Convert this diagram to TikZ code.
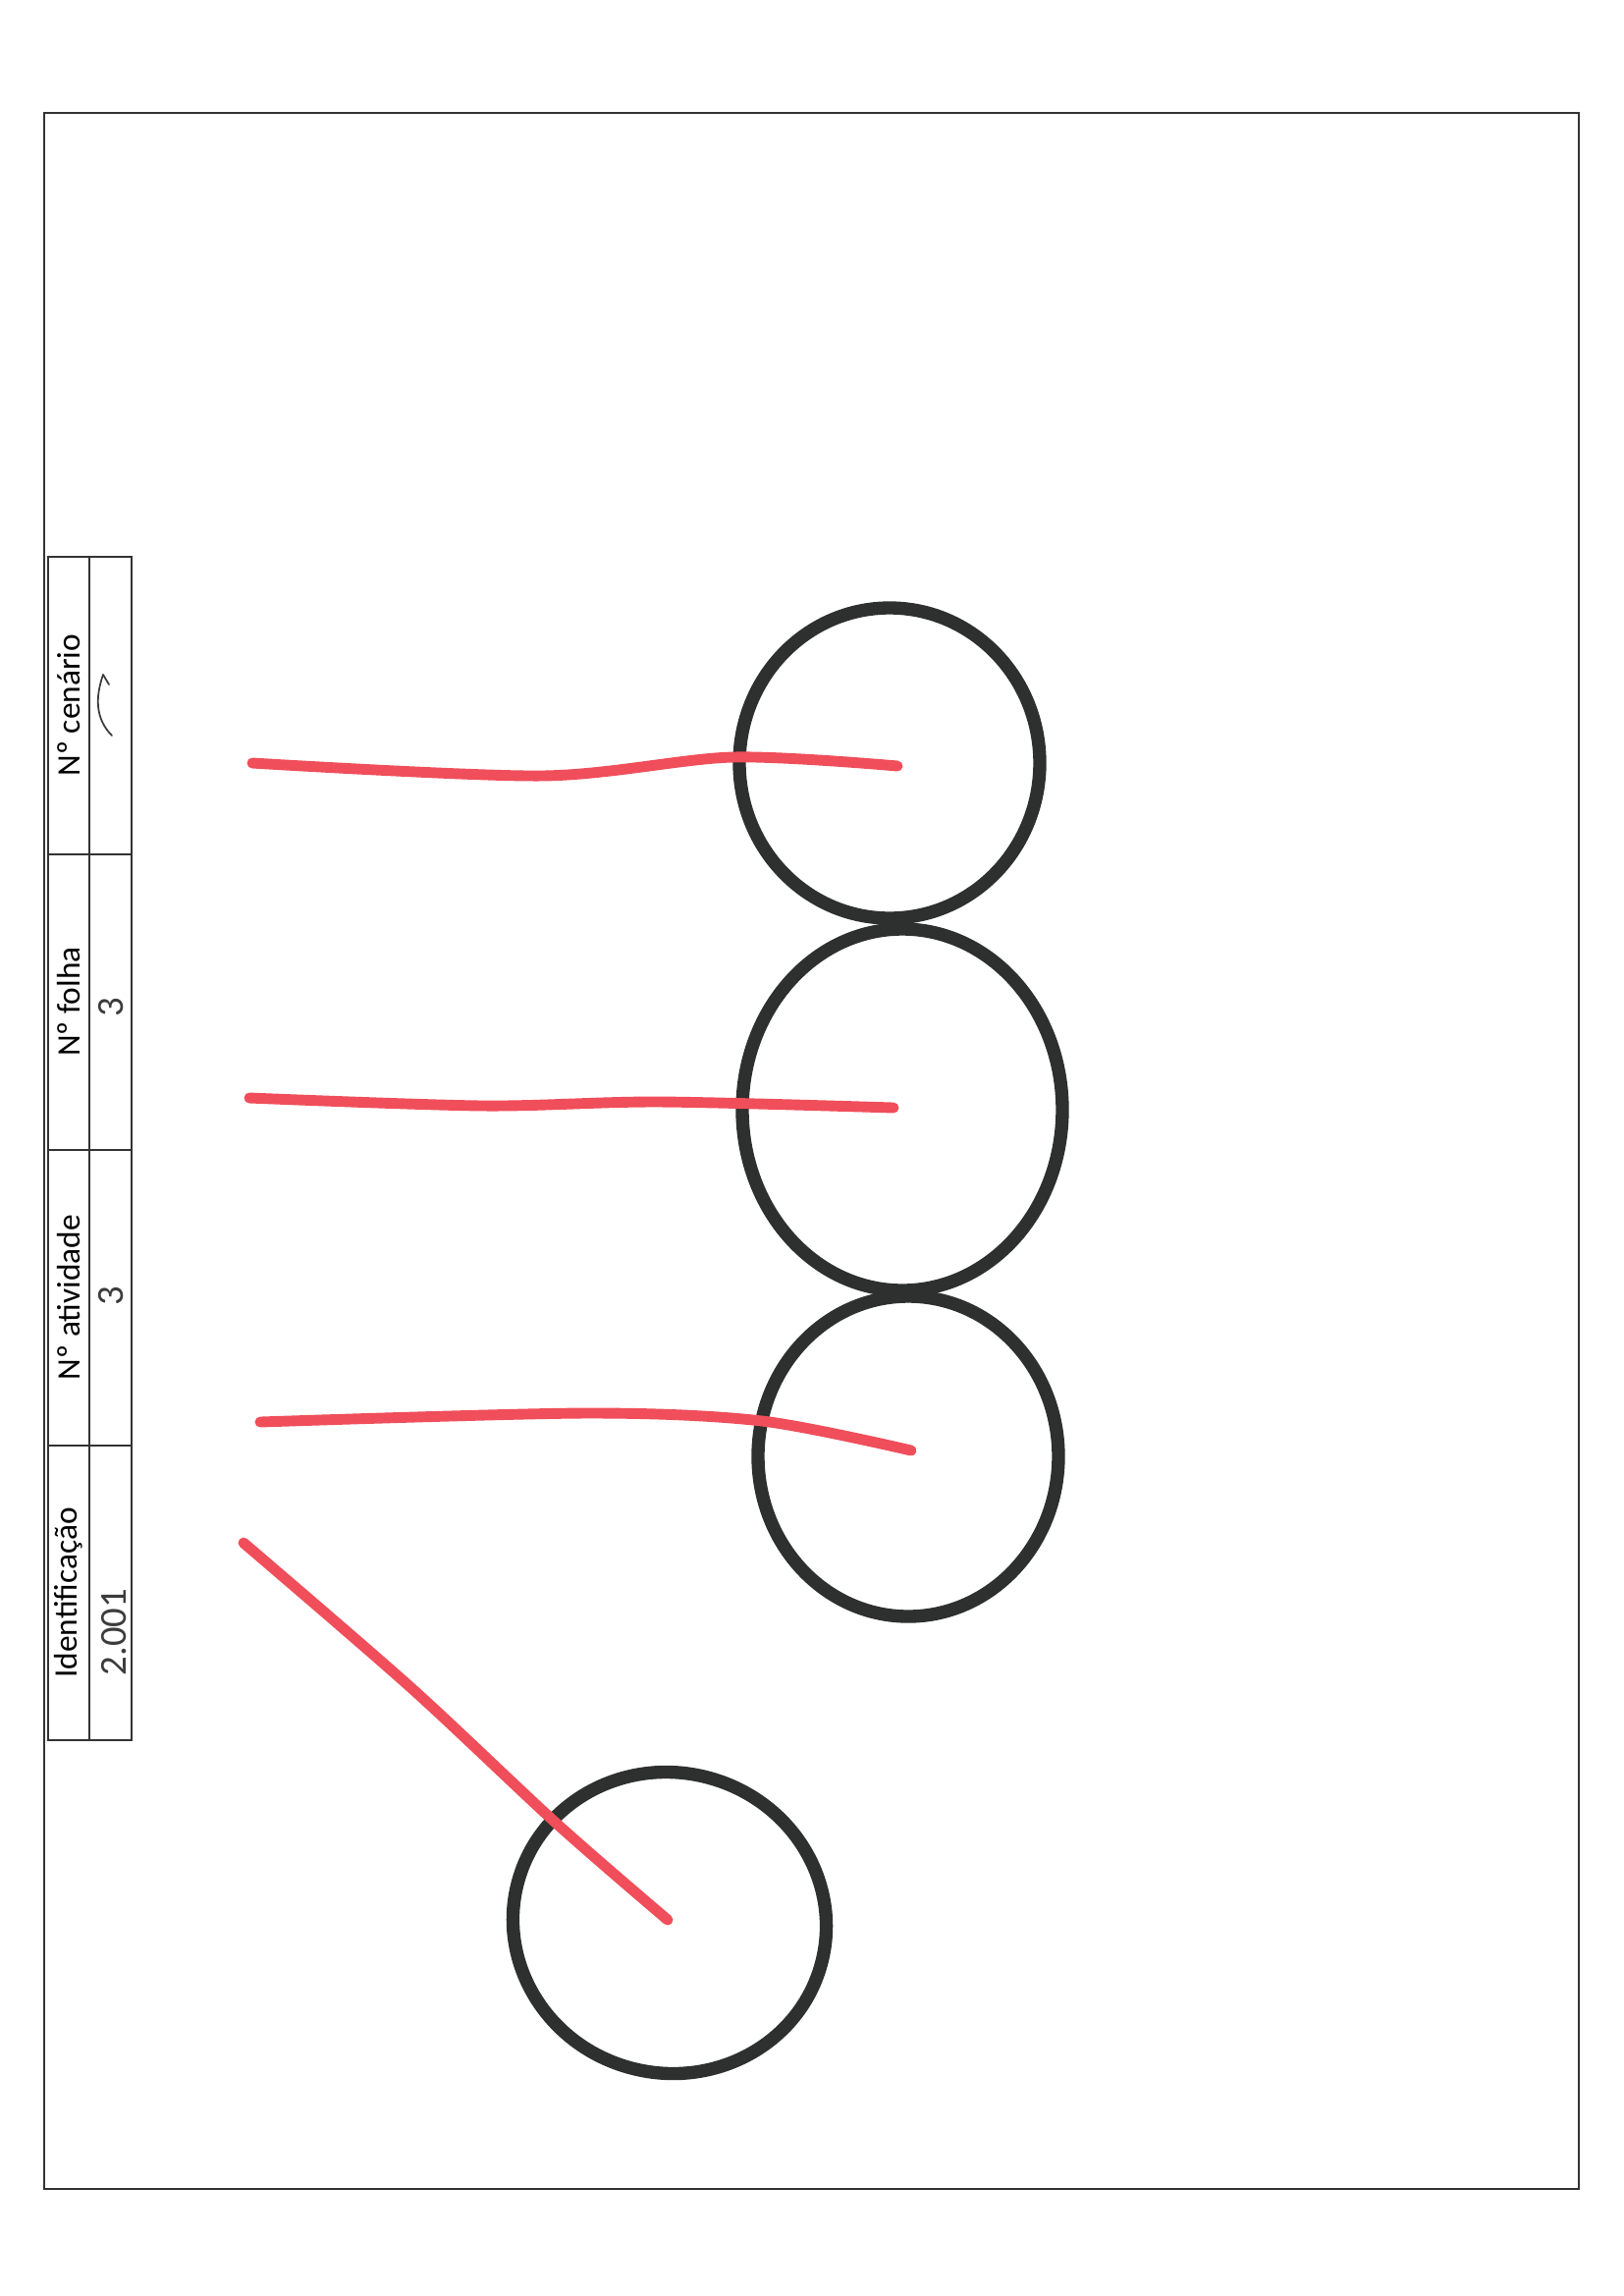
\documentclass[tikz,border=0pt]{standalone}
\usepackage{fontspec}
\setmainfont{Carlito}
\usetikzlibrary{calc}
\definecolor{ink}{RGB}{45,48,46}
\definecolor{marker}{RGB}{240,78,90}
\definecolor{pen}{RGB}{60,60,60}
\tikzset{
  blob/.style={draw=ink, line width=3.8pt},
  stick/.style={draw=marker, line width=3.1pt, line cap=round},
  head/.style={rotate=90, inner sep=0pt, font=\fontsize{9.5}{11}\selectfont},
  hand/.style={rotate=90, inner sep=0pt, text=pen, font=\fontsize{11}{12}\selectfont}
}

\begin{document}
\begin{tikzpicture}[x=0.01cm, y=-0.01cm]
				\useasboundingbox (0,0) rectangle (1654,2338);
				
				\draw[line width=0.8pt, draw=black!80] (45,115) rectangle (1608,2229);
				
				% tabela de identificacao
				\draw[line width=0.6pt, draw=black!80] (49,567) rectangle (134,1772);
				\draw[line width=0.6pt, draw=black!80] (91,567) -- (91,1772);
				\draw[line width=0.6pt, draw=black!80] (49,870) -- (134,870);
				\draw[line width=0.6pt, draw=black!80] (49,1171) -- (134,1171);
				\draw[line width=0.6pt, draw=black!80] (49,1472) -- (134,1472);
				
				\node[head] (hcen) at (70,718) {Nº cenário};
				\node[head] (hfol) at (70,1020) {Nº folha};
				\node[head] (hati) at (70,1321) {Nº atividade};
				\node[head] (hid) at (70,1622) {Identificação};
				
				\draw[pen, line width=0.5pt, line cap=round] (105,687) .. controls (97,710) and (97,732) .. (114,749);
				\draw[pen, line width=0.5pt, line cap=round] (105,687) -- (111,697);
				\node[hand] (vfol) at (113,1026) {3};
				\node[hand] (vati) at (113,1320) {3};
				\node[hand] (vid) at (116,1662) {2.001};
				
				% circulos
				\draw[blob] (906,777) ellipse [x radius=153, y radius=158];
				\draw[blob] (919,1130) ellipse [x radius=163, y radius=184];
				\draw[blob] (925,1483) ellipse [x radius=153, y radius=163];
				\draw[blob, rotate around={-15:(682,1958)}] (682,1958) ellipse [x radius=160, y radius=153];
				
				% tracos vermelhos
				\draw[stick] plot[smooth] coordinates {(257,777) (552,790) (746,771) (914,780)};
				\draw[stick] plot[smooth] coordinates {(254,1118) (492,1126) (671,1122) (910,1128)};
				\draw[stick] plot[smooth] coordinates {(265,1448) (597,1439) (776,1447) (928,1477)};
				\draw[stick] plot[smooth] coordinates {(248,1571) (418,1718) (567,1857) (680,1955)};
			\end{tikzpicture}
\end{document}
